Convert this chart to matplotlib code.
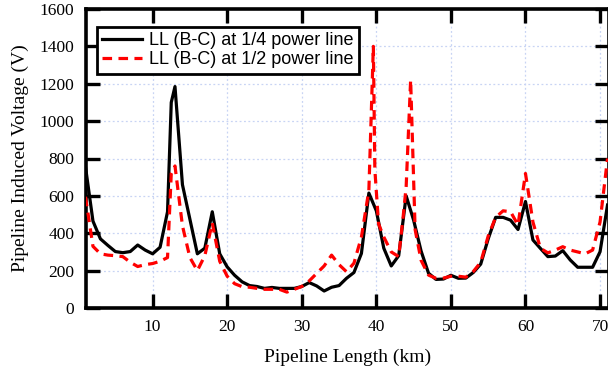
import matplotlib
matplotlib.use("Agg")
import matplotlib.pyplot as plt

# Series: LL (B-C) at 1/4 power line
x_quarter = [1, 2, 3, 4, 5, 6, 7, 8, 9, 10, 11, 12, 12.5, 13, 14, 15, 16, 17, 18, 19,
             20, 21, 22, 23, 24, 25, 26, 27, 28, 29, 30, 31, 32, 33, 34, 35, 36, 37, 38, 39,
             40, 41, 42, 43, 44, 45, 46, 47, 48, 49, 50, 51, 52, 53, 54, 55, 56, 57, 58, 59,
             60, 61, 62, 63, 64, 65, 66, 67, 68, 69, 70, 71]
y_quarter = [755, 465, 370, 335, 302, 296, 302, 337, 310, 290, 325, 515, 1100, 1185, 660, 475, 290, 320, 515, 290,
             220, 175, 140, 120, 115, 105, 110, 105, 105, 105, 115, 136, 118, 91, 111, 120, 159, 190, 292, 615,
             520, 320, 225, 280, 600, 470, 305, 186, 153, 155, 175, 159, 160, 190, 235, 370, 485, 485, 470, 420,
             570, 364, 319, 275, 278, 307, 257, 218, 218, 218, 301, 551]

# Series: LL (B-C) at 1/2 power line
x_half = [1, 2, 3, 4, 5, 6, 7, 8, 9, 10, 11, 12, 12.5, 13, 14, 15, 16, 17, 18, 19,
          20, 21, 22, 23, 24, 25, 26, 27, 28, 29, 30, 31, 32, 33, 34, 35, 36, 37, 38, 39,
          39.6, 39.8, 40.3, 41, 42, 43, 43.6, 44, 44.6, 45.2, 46, 47, 48, 49, 50, 51, 52, 53,
          54, 55, 56, 57, 58, 59, 60, 61, 62, 63, 64, 65, 66, 67, 68, 69, 70, 71]
y_half = [595, 330, 290, 283, 280, 275, 245, 222, 232, 238, 250, 270, 720, 760, 440, 270, 200, 280, 455, 250,
          170, 130, 114, 111, 105, 100, 100, 100, 85, 100, 115, 145, 185, 225, 283, 232, 194, 240, 380, 630,
          1400, 740, 450, 380, 300, 275, 490, 650, 1220, 420, 255, 176, 159, 160, 170, 170, 165, 195,
          245, 385, 485, 520, 515, 444, 720, 460, 320, 295, 310, 328, 310, 300, 290, 310, 460, 800]

labels = ["LL (B-C) at 1/4 power line", "LL (B-C) at 1/2 power line"]
x_ticks = [10, 20, 30, 40, 50, 60, 70]
y_ticks = [0, 200, 400, 600, 800, 1000, 1200, 1400, 1600]

fig = plt.figure(figsize=(6.08, 3.73), dpi=100)
ax = fig.add_axes([85.5 / 608, 1 - 308 / 373, (609 - 85.5) / 608, (308 - 9) / 373])

ax.plot(x_quarter, y_quarter, color="black", lw=2.3, label=labels[0], zorder=3)
ax.plot(x_half, y_half, color="#ff0000", lw=2.3, ls=(0, (3.0, 2.0)), label=labels[1], zorder=4)

ax.set_xlim(1, 71.2)
ax.set_ylim(0, 1600)
ax.set_xticks(x_ticks)
ax.set_yticks(y_ticks)

ax.grid(True, color="#c8d4f4", ls=(0, (1.5, 2)), lw=0.9, zorder=0)
for s in ax.spines.values():
    s.set_linewidth(2.6)
ax.tick_params(direction="in", length=10, width=2.4, top=True, right=True,
               labelsize=12.5, pad=8)
for lab in ax.get_xticklabels() + ax.get_yticklabels():
    lab.set_fontfamily("Liberation Serif")

ax.set_xlabel("Pipeline Length (km)", fontsize=14, fontfamily="Liberation Serif", labelpad=10)
ax.set_ylabel("Pipeline Induced Voltage (V)", fontsize=14, fontfamily="Liberation Serif", labelpad=8)

leg = ax.legend(loc="upper left", bbox_to_anchor=(0.022, 0.94), frameon=True, fancybox=False,
                prop={"family": "Liberation Sans", "size": 13}, handlelength=2.2,
                borderpad=0.3, labelspacing=0.1, handletextpad=0.4, borderaxespad=0)
leg.get_frame().set_edgecolor("black")
leg.get_frame().set_linewidth(2.0)
leg.get_frame().set_alpha(1)
leg.set_zorder(5)

fig.savefig("out.png", dpi=100)
